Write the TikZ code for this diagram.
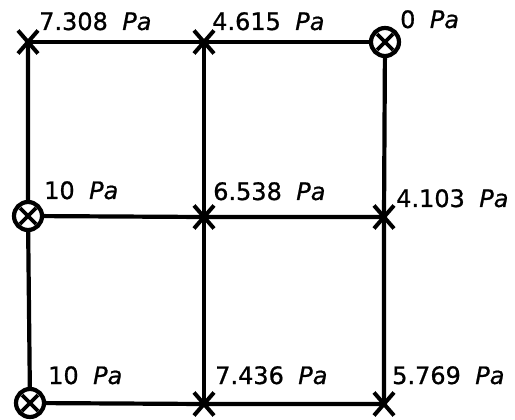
\documentclass[tikz,border=0pt]{standalone}
\usepackage{fontspec}
\setmainfont{DejaVu Sans}[FakeBold=0.8]
\usetikzlibrary{shapes.misc}
\begin{document}
\begin{tikzpicture}[x=1pt,y=-1pt,
  pipe/.style={line width=4.2pt},
  xmark/.style={cross out,draw,line width=4pt,minimum width=16pt,minimum height=19pt,inner sep=0pt},
  valve/.style={circle,draw,fill=white,line width=4.2pt,minimum size=28pt,inner sep=0pt,
     path picture={\draw[line width=3.6pt] ([shift={(6pt,-6pt)}]path picture bounding box.north west) -- ([shift={(-6pt,6pt)}]path picture bounding box.south east)
       ([shift={(6pt,6pt)}]path picture bounding box.south west) -- ([shift={(-6pt,-6pt)}]path picture bounding box.north east);}},
  lab/.style={anchor=base west,inner sep=0pt,font=\fontsize{24pt}{26pt}\selectfont}]
\useasboundingbox (0,0) rectangle (515,420);
% grid points
\coordinate (a1) at (28,42);  \coordinate (b1) at (204,42);  \coordinate (c1) at (385,42);
\coordinate (a2) at (28,216); \coordinate (b2) at (204,217); \coordinate (c2) at (384,217);
\coordinate (a3) at (30,403); \coordinate (b3) at (204,404); \coordinate (c3) at (384,404);
% pipes
\draw[pipe] (a1) -- (b1) -- (c1);
\draw[pipe] (a2) -- (b2) -- (c2);
\draw[pipe] (a3) -- (b3) -- (c3);
\draw[pipe] (a1) -- (a2) -- (a3);
\draw[pipe] (b1) -- (b2) -- (b3);
\draw[pipe] (c1) -- (c2) -- (c3);
% marks
\node[xmark] (ma1) at (a1) {};
\node[xmark] (mb1) at (b1) {};
\node[valve] (mc1) at (c1) {};
\node[valve] (ma2) at (a2) {};
\node[xmark] (mb2) at (b2) {};
\node[xmark] (mc2) at (c2) {};
\node[valve] (ma3) at (a3) {};
\node[xmark] (mb3) at (b3) {};
\node[xmark] (mc3) at (c3) {};
% labels
\node[lab] (la1) at (39,30) {7.308\hspace{0.6em}\textit{Pa}};
\node[lab] (lb1) at (212,30) {4.615\hspace{0.6em}\textit{Pa}};
\node[lab] (lc1) at (400,28) {0\hspace{0.6em}\textit{Pa}};
\node[lab] (la2) at (44,199) {10\hspace{0.6em}\textit{Pa}};
\node[lab] (lb2) at (213,200) {6.538\hspace{0.6em}\textit{Pa}};
\node[lab] (lc2) at (396,207) {4.103\hspace{0.6em}\textit{Pa}};
\node[lab] (la3) at (48,384) {10\hspace{0.6em}\textit{Pa}};
\node[lab] (lb3) at (215,384) {7.436\hspace{0.6em}\textit{Pa}};
\node[lab] (lc3) at (392,384) {5.769\hspace{0.6em}\textit{Pa}};
\end{tikzpicture}
\end{document}
